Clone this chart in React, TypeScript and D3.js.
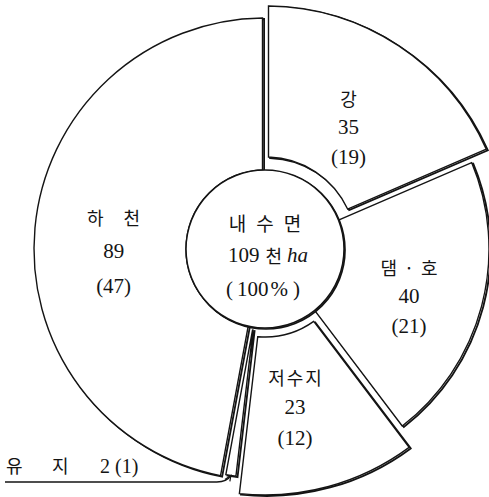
import React from 'react';
import * as d3 from 'd3';

// ---- data ----
const categories = ['강', '댐·호', '저수지', '유지', '하천'];
const areas = [35, 40, 23, 2, 89]; // 천 ha
const shares = [19, 21, 12, 1, 47]; // %
const centerTitle = ['내', '수', '면'];
const centerTotal = '109';
const centerUnitKo = '천';
const centerUnitLatin = 'ha';
const centerShare = '100';

// ---- layout / style ----
const W = 489;
const H = 497;
const CX = 265;
const CY = 249;
const HUB_R = 79;
const INK = '#141414';
const KO = "'Noto Sans CJK KR', 'Noto Sans', sans-serif";
const NUM = "'Liberation Serif', 'DejaVu Serif', 'Noto Sans CJK KR', serif";

type SliceStyle = {
  inner: number;
  outer: number;
  dx: number;
  dy: number;
  labelR: number;
  nx: number;
  ny: number;
  gap: number;
  ls: number;
  showLabel: boolean;
};

const styles: Record<string, SliceStyle> = {
  '강': { inner: 90, outer: 241, dx: 1, dy: -2, labelR: 150, nx: 0, ny: 5, gap: 29, ls: 0, showLabel: true },
  '댐·호': { inner: 79, outer: 224, dx: 0, dy: 0, labelR: 150, nx: -1, ny: 9, gap: 29, ls: 7, showLabel: true },
  '저수지': { inner: 84, outer: 242, dx: 0, dy: 4, labelR: 156, nx: -11, ny: 3, gap: 30, ls: 2, showLabel: true },
  '유지': { inner: 82, outer: 229, dx: 0, dy: 0, labelR: 150, nx: 0, ny: 0, gap: 0, ls: 0, showLabel: false },
  '하천': { inner: 79, outer: 231, dx: 0, dy: 0, labelR: 152, nx: 0, ny: 16, gap: 34, ls: 20, showLabel: true },
};

export default function App() {
  const pie = d3
    .pie<number>()
    .sort(null)
    .startAngle(0)
    .endAngle(2 * Math.PI);
  const arcs = pie(areas);

  const slices = arcs.map((a, i) => {
    const cat = categories[i];
    const s = styles[cat];
    const gen = d3
      .arc<d3.PieArcDatum<number>>()
      .innerRadius(s.inner)
      .outerRadius(s.outer)
      .padAngle(0.05)
      .padRadius(100);
    const labelGen = d3
      .arc<d3.PieArcDatum<number>>()
      .innerRadius(s.labelR)
      .outerRadius(s.labelR);
    const tipGen = d3
      .arc<d3.PieArcDatum<number>>()
      .innerRadius(s.outer)
      .outerRadius(s.outer);
    const [lx, ly] = labelGen.centroid(a);
    const [tx, ty] = tipGen.centroid(a);
    return {
      cat,
      s,
      d: gen(a) || '',
      lx: CX + s.dx + lx + s.nx,
      ly: CY + s.dy + ly + s.ny,
      tx: CX + s.dx + tx,
      ty: CY + s.dy + ty,
      value: areas[i],
      share: shares[i],
    };
  });

  const small = slices.find((sl) => !sl.s.showLabel)!;
  const leaderY = 482;

  return (
    <svg
      width={W}
      height={H}
      viewBox={`0 0 ${W} ${H}`}
      style={{ position: 'absolute', left: 0, top: 0, background: '#fff' }}
    >
      <rect x={0} y={0} width={W} height={H} fill="#fff" />
      {/* shadows */}
      {slices.map((sl) => (
        <path
          key={'sh' + sl.cat}
          d={sl.d}
          transform={`translate(${CX + sl.s.dx + 1.6},${CY + sl.s.dy + 1})`}
          fill="none"
          stroke={INK}
          strokeWidth={1.8}
          strokeLinejoin="miter"
        />
      ))}
      {/* slices */}
      {slices.map((sl) => (
        <path
          key={sl.cat}
          d={sl.d}
          transform={`translate(${CX + sl.s.dx},${CY + sl.s.dy})`}
          fill="#fff"
          stroke={INK}
          strokeWidth={1.4}
          strokeLinejoin="miter"
        />
      ))}
      {/* hub */}
      <circle cx={CX + 1} cy={CY + 1} r={HUB_R} fill="none" stroke={INK} strokeWidth={1.7} />
      <circle cx={CX} cy={CY} r={HUB_R} fill="#fff" stroke={INK} strokeWidth={1.5} />

      {/* slice labels */}
      {slices
        .filter((sl) => sl.s.showLabel)
        .map((sl) => (
          <g key={'lb' + sl.cat} fill={INK}>
            <text
              x={sl.lx + sl.s.ls / 2}
              y={sl.ly - sl.s.gap}
              textAnchor="middle"
              dominantBaseline="central"
              fontFamily={KO}
              fontSize={18}
              letterSpacing={sl.s.ls}
            >
              {sl.cat}
            </text>
            <text
              x={sl.lx}
              y={sl.ly}
              textAnchor="middle"
              dominantBaseline="central"
              fontFamily={NUM}
              fontSize={21}
            >
              {sl.value}
            </text>
            <text
              x={sl.lx}
              y={sl.ly + sl.s.gap + 1}
              textAnchor="middle"
              dominantBaseline="central"
              fontFamily={NUM}
              fontSize={21}
            >
              {`(${sl.share})`}
            </text>
          </g>
        ))}

      {/* center labels */}
      <g fill={INK}>
        <text
          x={CX + 5}
          y={CY - 27}
          textAnchor="middle"
          dominantBaseline="central"
          fontFamily={KO}
          fontSize={19}
          letterSpacing={10}
        >
          {centerTitle.join('')}
        </text>
        <text
          x={CX + 3}
          y={CY + 6}
          textAnchor="middle"
          dominantBaseline="central"
          fontFamily={NUM}
          fontSize={21}
        >
          <tspan>{centerTotal}</tspan>
          <tspan dx={6} fontFamily={KO} fontSize={18}>
            {centerUnitKo}
          </tspan>
          <tspan dx={5} fontStyle="italic">
            {centerUnitLatin}
          </tspan>
        </text>
        <text
          x={CX - 2}
          y={CY + 40}
          textAnchor="middle"
          dominantBaseline="central"
          fontFamily={NUM}
          fontSize={21}
        >
          <tspan>(</tspan>
          <tspan dx={4}>{centerShare}</tspan>
          <tspan dx={2}>%</tspan>
          <tspan dx={5}>)</tspan>
        </text>
      </g>

      {/* small slice label with leader */}
      <path
        d={`M5,${leaderY} H${small.tx - 14} Q${small.tx - 4},${leaderY} ${small.tx},${small.ty}`}
        fill="none"
        stroke={INK}
        strokeWidth={1.5}
      />
      <path
        d={`M${small.tx - 6},${small.ty + 4} L${small.tx},${small.ty} L${small.tx - 1},${small.ty + 6}`}
        fill="none"
        stroke={INK}
        strokeWidth={1.2}
      />
      <text y={473} fill={INK} fontSize={18}>
        <tspan x={6} fontFamily={KO}>
          {small.cat[0]}
        </tspan>
        <tspan x={52} fontFamily={KO}>
          {small.cat[1]}
        </tspan>
        <tspan x={100} fontFamily={NUM} fontSize={20}>
          {small.value}
        </tspan>
        <tspan dx={5} fontFamily={NUM} fontSize={20}>
          {`(${small.share})`}
        </tspan>
      </text>
    </svg>
  );
}
